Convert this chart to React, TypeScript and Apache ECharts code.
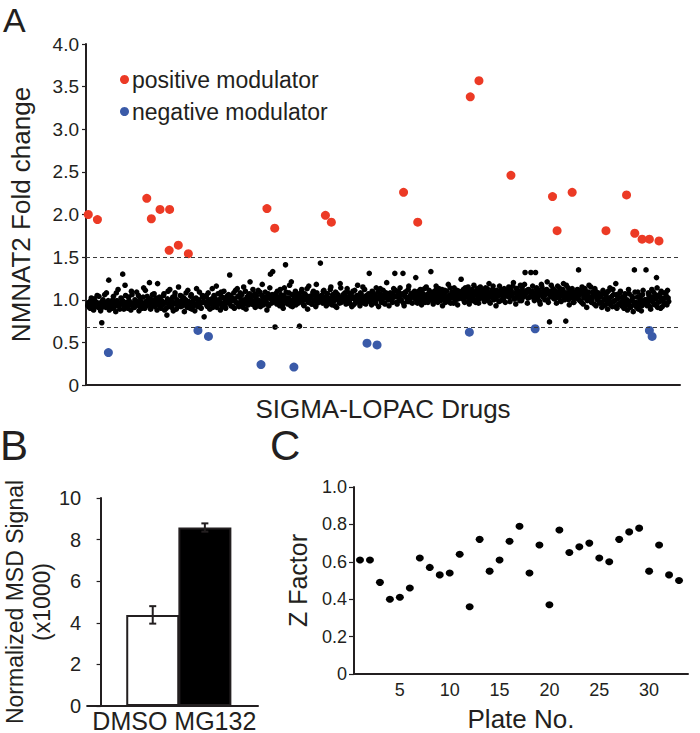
import React, { useEffect, useRef } from 'react';
import * as echarts from 'echarts';

const FONT = '"Liberation Sans", Arial, Helvetica, sans-serif';
const INK = '#231f20';
const RED = '#ec3a25';
const BLUE = '#3a5aa8';

// ---------- Panel A : SIGMA-LOPAC screen ----------
const aYName = 'NMNAT2 Fold change';
const aXName = 'SIGMA-LOPAC Drugs';
const aThresholds = [1.5, 0.68];
const aLibrarySize = 1300;
const libFirst = 4;
const libLast = 1274;

const posIdx = [5, 25, 133, 143, 162, 183, 182, 202, 224, 396, 413, 524, 537, 695, 726, 841, 860, 930, 1021, 1031, 1064, 1138, 1183, 1201, 1217, 1233, 1254];
const posVal = [2.0, 1.94, 2.19, 1.95, 2.06, 2.06, 1.58, 1.64, 1.54, 2.07, 1.84, 1.99, 1.91, 2.26, 1.91, 3.38, 3.57, 2.46, 2.21, 1.81, 2.26, 1.81, 2.23, 1.78, 1.71, 1.71, 1.69];

const negIdx = [49, 245, 268, 383, 455, 615, 637, 839, 983, 1233, 1239];
const negVal = [0.38, 0.64, 0.57, 0.24, 0.21, 0.49, 0.47, 0.62, 0.66, 0.64, 0.57];

// library compounds, first pass (even wells)
const libraryValsA = [
  0.93, 0.97, 0.9, 1.02, 0.95, 0.88, 0.99, 0.94, 1.05, 0.91, 0.96, 0.87, 0.73, 1.0, 0.93, 0.97, 1.08, 0.92, 1.23, 0.95,
  0.98, 0.9, 1.04, 0.94, 0.86, 0.99, 1.12, 0.93, 0.96, 1.01, 1.3, 0.89, 1.17, 0.95, 0.92, 1.03, 0.97, 0.88, 1.06, 0.94,
  0.91, 0.99, 1.09, 0.95, 0.87, 1.02, 0.96, 0.93, 1.14, 0.9, 0.98, 1.04, 0.94, 1.2, 0.89, 1.0, 0.95, 1.07, 0.92, 0.97,
  1.19, 0.94, 1.01, 0.9, 0.97, 1.05, 0.88, 0.96, 0.82, 1.1, 0.93, 0.99, 0.91, 1.03, 0.95, 1.08, 0.89, 0.98, 1.15, 0.94,
  0.92, 1.04, 0.97, 0.86, 1.0, 0.94, 1.11, 0.96, 0.9, 1.06, 0.98, 0.93, 0.87, 1.02, 0.95, 0.99, 1.09, 0.91, 0.97, 1.03,
  0.8, 0.96, 1.05, 0.92, 1.0, 0.89, 0.98, 1.13, 0.94, 1.02, 0.97, 0.91, 1.07, 0.99, 0.88, 1.04, 0.95, 1.1, 0.93, 1.01,
  0.97, 1.06, 1.29, 0.93, 1.02, 0.99, 0.9, 1.11, 0.96, 1.04, 0.92, 1.08, 1.0, 0.95, 1.15, 0.98, 0.89, 1.03, 0.94, 1.07,
  1.01, 0.95, 1.12, 0.98, 0.91, 1.05, 1.0, 0.93, 1.09, 0.97, 1.18, 0.94, 1.03, 0.99, 0.88, 1.07, 1.02, 1.3, 0.96, 1.33,
  1.04, 0.68, 0.97, 1.1, 1.01, 0.93, 1.06, 0.99, 0.9, 1.14, 1.41, 1.02, 0.95, 1.08, 0.98, 1.21, 0.92, 1.05, 1.0, 0.94,
  1.07, 0.96, 0.69, 1.03, 1.12, 0.99, 0.93, 1.06, 1.01, 0.89, 1.16, 0.97, 1.04, 0.95, 1.1, 1.0, 0.92, 1.08, 1.02, 0.98,
  1.43, 1.05, 0.96, 1.11, 1.0, 0.93, 1.07, 1.02, 0.98, 1.15, 0.94, 1.04, 0.99, 1.09, 0.91, 1.06, 1.01, 1.19, 0.97, 1.03,
  1.0, 1.08, 0.95, 1.13, 1.02, 0.97, 1.06, 0.92, 1.1, 1.01, 0.96, 1.04, 1.17, 0.99, 0.93, 1.07, 1.03, 0.98, 1.12, 0.95,
  1.05, 0.99, 1.31, 1.02, 0.94, 1.09, 1.04, 0.97, 1.14, 1.01, 0.92, 1.07, 1.03, 0.98, 1.11, 0.96, 1.05, 1.2, 1.0, 0.93,
  1.08, 1.02, 0.97, 1.13, 1.31, 1.04, 0.95, 1.1, 1.0, 0.99, 1.06, 1.31, 0.93, 1.09, 1.03, 0.98, 1.16, 1.01, 1.07, 0.96,
  1.03, 1.1, 1.26, 0.98, 1.05, 1.0, 1.12, 0.94, 1.07, 1.02, 0.97, 1.15, 1.04, 0.99, 1.09, 1.33, 1.01, 0.95, 1.06, 1.11,
  1.04, 0.97, 1.13, 1.08, 1.0, 0.93, 1.06, 1.11, 1.02, 0.98, 1.18, 1.05, 0.96, 1.09, 1.03, 1.14, 0.99, 1.07, 0.94, 1.1,
  1.06, 1.24, 1.01, 1.12, 0.97, 1.08, 1.03, 1.15, 0.95, 1.1, 1.04, 0.99, 1.17, 1.06, 1.0, 1.13, 0.96, 1.08, 1.02, 1.11,
  1.05, 0.98, 1.14, 1.09, 1.02, 1.19, 0.96, 1.07, 1.12, 1.0, 1.04, 0.93, 1.1, 1.06, 1.16, 0.99, 1.08, 1.03, 1.13, 0.97,
  1.09, 1.04, 1.15, 0.98, 1.11, 1.06, 1.2, 1.01, 0.95, 1.13, 1.07, 1.02, 1.17, 0.99, 1.1, 1.05, 1.32, 1.08, 0.96, 1.12,
  1.03, 1.32, 1.1, 1.06, 0.99, 1.32, 1.14, 1.02, 1.08, 0.95, 1.18, 1.05, 1.11, 1.0, 1.07, 1.21, 0.97, 0.74, 1.09, 1.04,
  1.13, 1.01, 1.07, 0.96, 1.16, 1.03, 1.1, 0.98, 1.05, 1.19, 1.0, 0.75, 1.08, 1.14, 0.94, 1.06, 1.11, 1.02, 0.97, 1.09,
  1.04, 1.12, 1.35, 0.99, 1.07, 1.15, 0.95, 1.03, 1.1, 0.91, 1.06, 1.17, 1.01, 0.97, 1.09, 1.04, 1.13, 0.93, 1.0, 1.08,
  0.96, 1.05, 0.91, 1.11, 1.0, 0.94, 1.08, 0.89, 1.02, 1.14, 0.97, 0.92, 1.06, 0.99, 1.19, 0.9, 1.03, 0.95, 1.1, 0.93,
  1.01, 0.9, 1.07, 0.95, 0.88, 1.12, 0.98, 0.92, 1.04, 0.86, 1.35, 0.97, 0.91, 1.09, 0.94, 1.02, 0.87, 1.06, 0.96, 1.0,
  1.35, 0.93, 1.08, 0.99, 0.89, 1.12, 1.03, 0.95, 1.06, 1.26, 0.91, 1.04, 0.98, 1.1, 0.92, 1.01, 0.96, 1.07, 0.94, 1.02,
];

// library compounds, second pass (odd wells)
const libraryValsB = [
  0.96, 0.91, 0.99, 0.94, 0.89, 1.01, 0.93, 0.97, 0.92, 1.04, 0.95, 0.9, 0.98, 0.94, 1.06, 0.91, 0.96, 0.99, 0.88, 0.95,
  0.94, 1.0, 0.91, 0.97, 1.08, 0.93, 0.96, 0.89, 1.02, 0.95, 0.98, 0.92, 1.05, 0.97, 0.9, 0.99, 0.94, 1.1, 0.96, 0.91,
  1.0, 0.94, 0.97, 1.05, 0.92, 0.98, 0.9, 1.03, 0.96, 1.11, 0.93, 0.99, 0.95, 1.01, 0.91, 1.06, 0.97, 0.94, 1.02, 0.88,
  0.96, 1.03, 0.92, 0.99, 0.94, 1.07, 0.97, 0.9, 1.01, 0.95, 1.12, 0.93, 0.98, 0.87, 1.04, 0.96, 1.0, 0.92, 0.97, 1.05,
  0.99, 0.93, 1.02, 0.96, 1.08, 0.91, 0.98, 0.94, 1.04, 0.89, 0.97, 1.01, 0.95, 1.13, 0.92, 1.0, 0.96, 0.9, 1.05, 0.98,
  1.03, 0.97, 0.93, 1.08, 0.99, 0.95, 1.01, 0.91, 1.05, 0.98, 1.16, 0.94, 1.0, 0.96, 1.09, 0.92, 1.02, 0.97, 0.9, 1.04,
  1.02, 0.96, 1.05, 0.99, 0.92, 1.08, 1.01, 0.97, 1.13, 0.94, 1.03, 0.98, 1.06, 0.91, 1.0, 1.1, 0.95, 1.04, 0.99, 1.21,
  0.98, 1.04, 0.94, 1.07, 1.01, 0.96, 1.11, 0.99, 0.92, 1.05, 1.0, 0.95, 1.09, 0.97, 1.03, 0.93, 1.14, 1.01, 1.06, 0.98,
  1.0, 1.07, 0.95, 1.03, 0.98, 1.12, 1.01, 0.94, 1.05, 0.99, 1.09, 0.96, 1.02, 1.17, 0.93, 1.06, 1.0, 0.97, 1.1, 1.03,
  1.01, 1.05, 0.98, 1.09, 1.03, 0.94, 1.07, 1.0, 1.13, 0.97, 1.04, 1.02, 0.95, 1.08, 0.99, 1.05, 1.18, 0.96, 1.03, 1.0,
  0.99, 1.04, 1.1, 0.97, 1.03, 1.07, 0.95, 1.01, 1.12, 0.98, 1.06, 1.02, 0.93, 1.08, 1.0, 1.04, 0.96, 1.14, 1.02, 1.06,
  1.04, 0.98, 1.03, 1.09, 0.96, 1.01, 1.07, 1.03, 0.94, 1.11, 0.99, 1.05, 1.02, 0.97, 1.08, 1.01, 1.15, 0.96, 1.04, 1.0,
  1.02, 1.07, 0.98, 1.04, 1.1, 1.0, 1.06, 0.96, 1.03, 1.09, 1.01, 1.13, 0.97, 1.05, 1.02, 0.95, 1.08, 1.04, 1.0, 1.07,
  1.05, 0.99, 1.08, 1.03, 1.11, 0.97, 1.06, 1.02, 1.14, 1.0, 1.07, 0.96, 1.04, 1.09, 1.01, 1.12, 0.98, 1.05, 1.03, 1.08,
  1.07, 1.01, 1.05, 0.96, 1.1, 1.03, 0.99, 1.08, 1.04, 1.13, 1.0, 1.06, 0.97, 1.11, 1.02, 1.05, 1.09, 0.98, 1.04, 1.16,
  1.01, 1.08, 1.05, 0.99, 1.12, 1.03, 1.07, 0.97, 1.1, 1.04, 1.0, 1.14, 1.06, 1.02, 0.96, 1.09, 1.05, 1.11, 1.01, 1.06,
  1.09, 1.03, 1.07, 1.0, 1.14, 1.05, 1.1, 0.98, 1.06, 1.02, 1.12, 1.04, 1.08, 0.97, 1.11, 1.05, 1.01, 1.15, 1.07, 1.03,
  1.02, 1.1, 1.06, 1.13, 0.99, 1.05, 1.09, 1.03, 1.16, 1.07, 1.01, 1.11, 1.04, 0.98, 1.08, 1.12, 1.05, 1.0, 1.1, 1.06,
  1.07, 1.12, 1.03, 1.09, 1.05, 1.16, 1.01, 1.08, 1.13, 1.04, 1.1, 0.99, 1.06, 1.14, 1.03, 1.18, 1.07, 1.11, 1.02, 1.09,
  1.1, 1.05, 1.16, 1.02, 1.08, 1.13, 1.04, 1.11, 0.98, 1.07, 1.15, 1.03, 1.09, 1.06, 1.12, 1.0, 1.1, 1.05, 1.17, 1.03,
  1.06, 1.11, 1.02, 1.09, 1.04, 1.14, 0.99, 1.07, 1.12, 1.03, 1.08, 1.17, 1.05, 1.0, 1.1, 1.04, 1.13, 0.97, 1.07, 1.02,
  1.08, 1.01, 1.05, 1.11, 0.97, 1.07, 1.02, 1.13, 1.04, 0.99, 1.09, 1.03, 1.15, 1.0, 1.06, 0.95, 1.1, 1.04, 1.01, 1.07,
  1.03, 0.97, 1.07, 0.93, 1.01, 1.05, 0.96, 1.1, 0.99, 0.94, 1.04, 1.12, 0.98, 0.92, 1.06, 1.01, 0.95, 1.08, 0.97, 1.03,
  0.97, 1.04, 0.93, 1.0, 0.95, 1.07, 0.91, 0.99, 1.02, 0.94, 1.09, 0.96, 1.03, 0.89, 0.98, 1.05, 0.93, 1.11, 0.99, 0.95,
  1.0, 0.96, 1.05, 0.92, 1.03, 0.98, 1.09, 0.94, 1.01, 1.14, 0.97, 1.06, 0.9, 1.02, 0.99, 1.08, 0.95, 1.04, 1.11, 0.98,
];

// ---------- Panel B : MSD signal ----------
const bCats = ['DMSO', 'MG132'];
const bMeans = [4.38, 8.58];
const bErrs = [0.42, 0.2];
const bYName = 'Normalized MSD Signal\n(x1000)';

// ---------- Panel C : Z factor per plate ----------
const cPlates = [1, 2, 3, 4, 5, 6, 7, 8, 9, 10, 11, 12, 13, 14, 15, 16, 17, 18, 19, 20, 21, 22, 23, 24, 25, 26, 27, 28, 29, 30, 31, 32, 33];
const cZ = [0.61, 0.61, 0.49, 0.4, 0.41, 0.46, 0.62, 0.57, 0.53, 0.54, 0.64, 0.36, 0.72, 0.55, 0.61, 0.71, 0.79, 0.54, 0.69, 0.37, 0.77, 0.65, 0.68, 0.7, 0.62, 0.6, 0.72, 0.76, 0.78, 0.55, 0.69, 0.53, 0.5];
const cXTicks = [5, 10, 15, 20, 25, 30];

const axisLine = (w = 2) => ({ show: true, lineStyle: { color: INK, width: w } });
const tick = (len = 4) => ({ show: true, inside: false, length: len, lineStyle: { color: INK, width: 1.2 } });
const label = (size: number, margin: number, fmt?: any) => ({
  show: true, color: INK, fontSize: size, fontFamily: FONT, margin, formatter: fmt,
});
const dec1 = (v: number) => (v === 0 ? '0' : v.toFixed(1));

export default function App() {
  const ref = useRef<HTMLDivElement>(null);

  useEffect(() => {
    if (!ref.current) return;
    const chart = echarts.init(ref.current, undefined, { renderer: 'svg' });

    const step = (libLast - libFirst) / (libraryValsA.length - 1);
    const libData = [
      ...libraryValsA.map((v, i) => [libFirst + i * step, v]),
      ...libraryValsB.map((v, i) => [libFirst + (i + 0.5) * step, v]),
    ];
    const posData = posIdx.map((x, i) => [x, posVal[i]]);
    const negData = negIdx.map((x, i) => [x, negVal[i]]);
    const barData = bMeans.map((m, i) => ({
      value: [i + 1, m],
      itemStyle: i === 0
        ? { color: '#ffffff', borderColor: INK, borderWidth: 2 }
        : { color: '#000000', borderColor: INK, borderWidth: 2 },
    }));
    const errData = bMeans.map((m, i) => [i + 1, m, bErrs[i]]);
    const cData = cPlates.map((p, i) => [p, cZ[i]]);

    const option: any = {
      animation: false,
      backgroundColor: '#ffffff',
      textStyle: { fontFamily: FONT, color: INK },
      grid: [
        { left: 82, top: 44, right: 20, bottom: 348, containLabel: false },
        { left: 83, top: 498, right: 442, bottom: 25, containLabel: false },
        { left: 354, top: 487, right: 12, bottom: 53.5, containLabel: false },
      ],
      legend: {
        data: ['positive modulator', 'negative modulator'],
        orient: 'vertical',
        left: 115,
        top: 63,
        icon: 'circle',
        itemWidth: 9,
        itemHeight: 9,
        itemGap: 9,
        textStyle: { fontSize: 23, fontFamily: FONT, color: INK, padding: [0, 0, 0, -2] },
        selectedMode: false,
      },
      xAxis: [
        {
          gridIndex: 0, type: 'value', min: 0, max: aLibrarySize,
          axisLine: axisLine(2), axisTick: { show: false }, axisLabel: { show: false }, splitLine: { show: false },
          name: aXName, nameLocation: 'middle', nameGap: 11,
          nameTextStyle: { fontSize: 26, fontFamily: FONT, color: INK },
        },
        {
          gridIndex: 1, type: 'category', data: bCats,
          axisLine: axisLine(2), axisTick: { show: false },
          axisLabel: { ...label(25, 2), interval: 0 }, splitLine: { show: false },
        },
        {
          gridIndex: 1, type: 'value', min: -0.258, max: 3.019, show: false,
        },
        {
          gridIndex: 2, type: 'value', min: 0.4, max: 33.9,
          axisLine: axisLine(2), axisTick: { show: false },
          axisLabel: { ...label(18, 7), customValues: cXTicks }, splitLine: { show: false },
          name: 'Plate No.', nameLocation: 'middle', nameGap: 32,
          nameTextStyle: { fontSize: 26, fontFamily: FONT, color: INK },
        },
      ],
      yAxis: [
        {
          gridIndex: 0, type: 'value', min: 0, max: 4, interval: 0.5,
          axisLine: axisLine(2), axisTick: tick(4), axisLabel: label(19, 7, dec1), splitLine: { show: false },
          name: aYName, nameLocation: 'middle', nameGap: 52, nameRotate: 90,
          nameTextStyle: { fontSize: 26, fontFamily: FONT, color: INK },
        },
        {
          gridIndex: 1, type: 'value', min: 0, max: 10, interval: 2,
          axisLine: axisLine(2), axisTick: tick(4), axisLabel: label(20, 6), splitLine: { show: false },
          name: bYName, nameLocation: 'middle', nameGap: 28, nameRotate: 90,
          nameTextStyle: { fontSize: 23, lineHeight: 27, fontFamily: FONT, color: INK, align: 'center' },
        },
        {
          gridIndex: 2, type: 'value', min: 0, max: 1, interval: 0.2,
          axisLine: axisLine(2), axisTick: tick(5), axisLabel: label(18, 7, dec1), splitLine: { show: false },
          name: 'Z Factor', nameLocation: 'middle', nameGap: 44, nameRotate: 90,
          nameTextStyle: { fontSize: 25, fontFamily: FONT, color: INK },
        },
      ],
      series: [
        {
          name: 'library', type: 'scatter', xAxisIndex: 0, yAxisIndex: 0,
          data: libData, symbol: 'circle', symbolSize: 5.6,
          itemStyle: { color: '#000000', opacity: 1 }, silent: true, large: false,
          markLine: {
            silent: true, symbol: ['none', 'none'], label: { show: false },
            lineStyle: { color: '#3a3a3a', width: 1.2, type: [4, 3] },
            data: aThresholds.map((t) => ({ yAxis: t })),
          },
        },
        {
          name: 'positive modulator', type: 'scatter', xAxisIndex: 0, yAxisIndex: 0,
          data: posData, symbol: 'circle', symbolSize: 9, itemStyle: { color: RED, opacity: 1 }, z: 3,
        },
        {
          name: 'negative modulator', type: 'scatter', xAxisIndex: 0, yAxisIndex: 0,
          data: negData, symbol: 'circle', symbolSize: 9, itemStyle: { color: BLUE, opacity: 1 }, z: 3,
        },
        {
          name: 'signal', type: 'bar', xAxisIndex: 2, yAxisIndex: 1,
          data: barData, barWidth: 53,
        },
        {
          name: 'error', type: 'custom', xAxisIndex: 2, yAxisIndex: 1, z: 5,
          data: errData,
          renderItem: (params: any, api: any) => {
            const x = api.value(0);
            const m = api.value(1);
            const e = api.value(2);
            const top = api.coord([x, m + e]);
            const bot = api.coord([x, m - e]);
            const hw = 3.5;
            const st = { stroke: INK, lineWidth: 2 };
            return {
              type: 'group',
              children: [
                { type: 'line', shape: { x1: top[0], y1: top[1], x2: bot[0], y2: bot[1] }, style: st },
                { type: 'line', shape: { x1: top[0] - hw, y1: top[1], x2: top[0] + hw, y2: top[1] }, style: st },
                { type: 'line', shape: { x1: bot[0] - hw, y1: bot[1], x2: bot[0] + hw, y2: bot[1] }, style: st },
              ],
            };
          },
        },
        {
          name: 'Z factor', type: 'scatter', xAxisIndex: 3, yAxisIndex: 2,
          data: cData, symbol: 'circle', symbolSize: [8, 7], itemStyle: { color: '#000000', opacity: 1 },
        },
      ],
      graphic: [
        { type: 'text', left: 3, top: 3, style: { text: 'A', font: `34px ${FONT}`, fill: INK } },
        { type: 'text', left: 0, top: 424, style: { text: 'B', font: `42px ${FONT}`, fill: INK } },
        { type: 'text', left: 270, top: 424, style: { text: 'C', font: `42px ${FONT}`, fill: INK } },
      ],
    };

    chart.setOption(option);
    return () => chart.dispose();
  }, []);

  return (
    <div
      ref={ref}
      style={{ position: 'fixed', left: 0, top: 0, width: 700, height: 733, background: '#fff' }}
    />
  );
}
